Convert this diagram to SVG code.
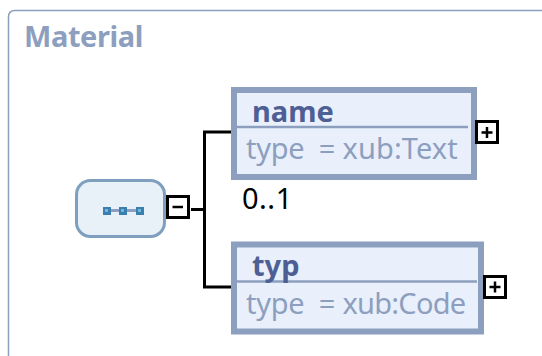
<svg xmlns="http://www.w3.org/2000/svg" width="542" height="356" viewBox="0 0 542 356">
<style>
.box{fill:#e9f0fb;stroke:#8d9fbf;stroke-width:6}
.sep{stroke:#8d9fbf;stroke-width:2.500;fill:none}
.t{font-family:"Noto Sans","DejaVu Sans",sans-serif;white-space:pre}
.nm{font-size:29px;font-weight:700;fill:#4d5f94}
.ty{font-size:29px;fill:#8d9fbf}
.btn{fill:#fff;stroke:#000;stroke-width:3}
.sym{stroke:#000;stroke-width:2.500;fill:none}
.con{stroke:#000;stroke-width:3;fill:none}
.sq{fill:#3b7fb0}
.sqi{fill:#6fb9d8}
</style>
<g id="frame">
<path d="M8.500 356V17Q8.500 10.500 15 10.500H542" fill="none" stroke="#8d9fbf" stroke-width="1.500"/>
<text class="t" x="24" y="47" font-size="29" font-weight="700" fill="#8d9fbf" letter-spacing="-0.400">Material</text>
</g>
<g id="connectors">
<path class="con" d="M191 209.500H204.500M232 132H204.500V287H232"/>
</g>
<g id="sequence">
<rect x="76.500" y="180.500" width="88" height="56" rx="14" fill="#e8f0f8" stroke="#7f9fbf" stroke-width="3"/>
<path d="M110 210.500H140" stroke="#8d9fbf" stroke-width="3"/>
<rect class="sq" x="103" y="207" width="8" height="8"/><rect class="sqi" x="105" y="209" width="3" height="3"/>
<rect class="sq" x="119" y="207" width="8" height="8"/><rect class="sqi" x="121" y="209" width="3" height="3"/>
<rect class="sq" x="136" y="207" width="8" height="8"/><rect class="sqi" x="138" y="209" width="3" height="3"/>
<rect class="btn" x="167.500" y="196.500" width="21" height="21"/>
<path class="sym" d="M172.500 207H183"/>
</g>
<g id="name">
<rect class="box" x="234" y="90" width="240" height="87"/>
<path class="sep" d="M236 127H468"/>
<text class="t nm" x="252" y="122">name</text>
<text class="t ty" x="246" y="159" letter-spacing="-0.300">type  = <tspan x="342.500" letter-spacing="0.100">xub:Text</tspan></text>
<rect class="btn" x="476.500" y="121.500" width="21" height="21"/>
<path class="sym" d="M481.500 132.500H492.500M487 127V138"/>
</g>
<text id="occurs" class="t" x="242" y="209" font-size="29" fill="#000" letter-spacing="0.500">0..1</text>
<g id="typ">
<rect class="box" x="234" y="244.500" width="247" height="87"/>
<path class="sep" d="M236 281.500H477"/>
<text class="t nm" x="252" y="276">typ</text>
<text class="t ty" x="246" y="314" letter-spacing="-0.300">type  = <tspan x="342.500" letter-spacing="-0.750">xub:Code</tspan></text>
<rect class="btn" x="484.500" y="276.500" width="21" height="21"/>
<path class="sym" d="M489.500 287H500.500M495 281.500V292.500"/>
</g>
</svg>
